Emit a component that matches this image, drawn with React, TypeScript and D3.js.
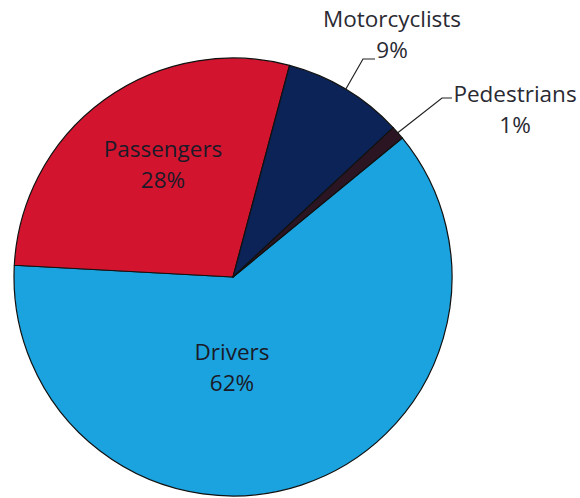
import React from "react";
import * as d3 from "d3";

const categories = ["Drivers", "Passengers", "Motorcyclists", "Pedestrians"];
const values = [61.8, 28.3, 8.9, 1.0];
const percentLabels = ["62%", "28%", "9%", "1%"];
const colors = ["#1aa3de", "#d3142e", "#0b2356", "#2b1522"];

const W = 580;
const H = 498;
const cx = 233;
const cy = 277;
const R = 219;
const START_DEG = 50.6;
const FONT = "'Open Sans', 'Noto Sans', sans-serif";
const FS = 22.5;

export default function App() {
  const data = categories.map((c, i) => ({ name: c, value: values[i], pct: percentLabels[i], color: colors[i] }));
  const startA = (START_DEG * Math.PI) / 180;
  const pie = d3
    .pie<any>()
    .sort(null)
    .value((d: any) => d.value)
    .startAngle(startA)
    .endAngle(startA + 2 * Math.PI);
  const arcs = pie(data);
  const arcGen = d3.arc<any>().innerRadius(0).outerRadius(R);

  const pt = (a: number, r: number) => [Math.sin(a) * r, -Math.cos(a) * r];

  // label placements relative to center
  const inside: Record<string, [number, number]> = {
    Drivers: [-1, 83],
    Passengers: [-70, -120],
  };
  const outside: Record<string, { elbow: [number, number]; end: [number, number]; text: [number, number] }> = {
    Motorcyclists: { elbow: [130, -218], end: [142, -218], text: [159, -250] },
    Pedestrians: { elbow: [209, -179], end: [219, -179], text: [282, -175] },
  };

  return (
    <svg width={W} height={H} style={{ position: "absolute", left: 0, top: 0, background: "#fff" }}>
      <g transform={`translate(${cx},${cy})`}>
        {arcs.map((a, i) => (
          <path key={i} d={arcGen(a) as string} fill={a.data.color} stroke="#111" strokeWidth={1.2} strokeLinejoin="round" />
        ))}
        {arcs.map((a, i) => {
          const name = a.data.name;
          if (inside[name]) {
            const [x, y] = inside[name];
            return (
              <text key={"t" + i} x={x} y={y} textAnchor="middle" fontFamily={FONT} fontSize={FS} fill="#1a1a28">
                <tspan x={x} dy={0}>{name}</tspan>
                <tspan x={x} dy={31}>{a.data.pct}</tspan>
              </text>
            );
          }
          const o = outside[name];
          const mid = (a.startAngle + a.endAngle) / 2;
          const [sx, sy] = pt(mid, R);
          return (
            <g key={"t" + i}>
              <path d={`M${sx},${sy}L${o.elbow[0]},${o.elbow[1]}L${o.end[0]},${o.end[1]}`} fill="none" stroke="#222" strokeWidth={1.2} />
              <text x={o.text[0]} y={o.text[1]} textAnchor="middle" fontFamily={FONT} fontSize={FS} fill="#2a2a33">
                <tspan x={o.text[0]} dy={0}>{name}</tspan>
                <tspan x={o.text[0]} dy={31}>{a.data.pct}</tspan>
              </text>
            </g>
          );
        })}
      </g>
    </svg>
  );
}
